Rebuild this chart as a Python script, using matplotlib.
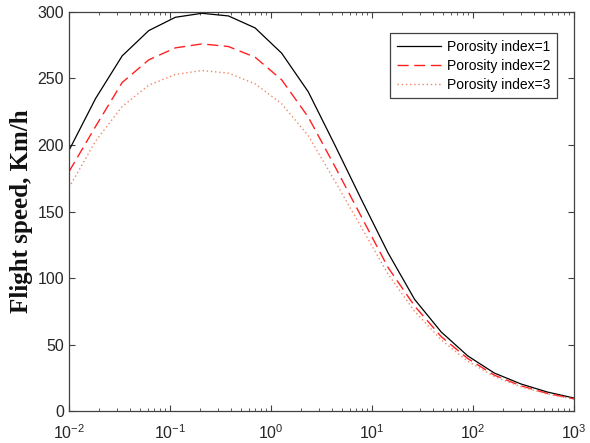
import numpy as np
import matplotlib
matplotlib.use("Agg")
import matplotlib.pyplot as plt

# data (20 log-spaced points from 1e-2 to 1e3)
x = np.logspace(-2, 3, 20)
speed_p1 = [196, 235, 267, 286, 296, 299, 297, 288, 269, 240,
            200, 159, 119, 84, 59.5, 41.5, 28.6, 20.4, 14.3, 9.8]
speed_p2 = [180, 214, 247, 264, 273, 276, 274, 266, 249, 221,
            184, 146, 108, 79, 56, 39.5, 27, 19, 13.3, 9.2]
speed_p3 = [168, 203, 229, 245, 253, 256, 254, 246, 231, 207,
            173, 138, 103, 75, 53.5, 37.5, 26, 18.3, 12.8, 8.9]
labels = ["Porosity index=1", "Porosity index=2", "Porosity index=3"]

plt.rcParams["font.family"] = ["Liberation Sans", "DejaVu Sans"]
plt.rcParams["mathtext.fontset"] = "custom"
plt.rcParams["mathtext.rm"] = "Liberation Sans"

axis_col = "#404040"

fig = plt.figure(figsize=(5.9, 4.43), dpi=100)
ax = fig.add_axes([0.117, 0.072, 0.856, 0.901])

ax.plot(x, speed_p1, color="black", lw=0.9, label=labels[0])
ax.plot(x, speed_p2, color="#ff2020", lw=1.0, dashes=(8, 4), label=labels[1])
ax.plot(x, speed_p3, color="#ee8866", lw=1.0, dashes=(1, 2), label=labels[2])

ax.set_xscale("log")
ax.set_xlim(1e-2, 1e3)
ax.set_ylim(0, 300)
ax.set_yticks(range(0, 301, 50))

ax.set_ylabel("Flight speed, Km/h", family=["Liberation Serif", "DejaVu Serif"],
              fontweight="bold", fontsize=18, color="#111111", labelpad=3)

ax.tick_params(which="both", direction="in", top=True, right=True,
               colors=axis_col, labelcolor="#262626", labelsize=11.5)
ax.tick_params(which="major", length=4, width=0.8)
ax.tick_params(which="minor", length=2.5, width=0.6)
ax.tick_params(axis="x", pad=9)
for s in ax.spines.values():
    s.set_color(axis_col)
    s.set_linewidth(0.9)

leg = ax.legend(loc="upper right", fontsize=10, handlelength=3.2,
                handletextpad=0.4, labelspacing=0.35, borderpad=0.5,
                fancybox=False, framealpha=1, bbox_to_anchor=(0.98, 0.965))
leg.get_frame().set_edgecolor(axis_col)
leg.get_frame().set_linewidth(0.9)

fig.savefig("out.png", dpi=100)
